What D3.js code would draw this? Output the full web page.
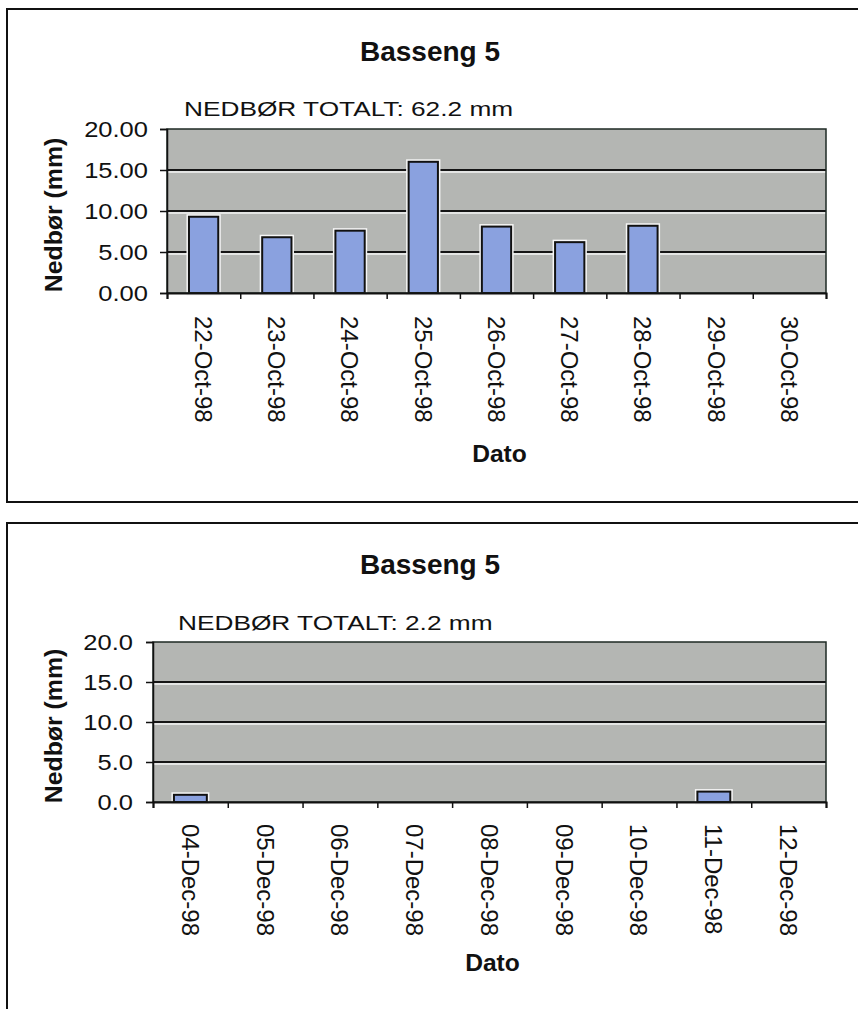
<!DOCTYPE html>
<html>
<head>
<meta charset="utf-8">
<script src="https://cdn.jsdelivr.net/npm/d3@7"></script>
<style>
  html, body { margin: 0; padding: 0; background: #fff; }
  svg { display: block; }
  text { font-family: "Liberation Sans", Arial, sans-serif; fill: #111; }
</style>
</head>
<body>
<script>
// ---------- DATA ----------
const titleText = "Basseng 5";
const yLabelText = "Nedbør (mm)";
const xLabelText = "Dato";

const octDates = ["22-Oct-98","23-Oct-98","24-Oct-98","25-Oct-98","26-Oct-98","27-Oct-98","28-Oct-98","29-Oct-98","30-Oct-98"];
const octRain  = [9.3, 6.8, 7.6, 16.0, 8.1, 6.2, 8.2, 0, 0];
const octTotal = "NEDBØR TOTALT: 62.2 mm";

const decDates = ["04-Dec-98","05-Dec-98","06-Dec-98","07-Dec-98","08-Dec-98","09-Dec-98","10-Dec-98","11-Dec-98","12-Dec-98"];
const decRain  = [0.9, 0, 0, 0, 0, 0, 0, 1.3, 0];
const decTotal = "NEDBØR TOTALT: 2.2 mm";

const yTicks = [0, 5, 10, 15, 20];
const yMax = 20;

// ---------- DRAW ----------
const W = 858, H = 1009;
const svg = d3.select("body").append("svg").attr("width", W).attr("height", H);

function txt(g, str, x, y, o) {
  o = o || {};
  const t = g.append("text")
    .attr("transform", `translate(${x},${y}) rotate(${o.rot || 0}) scale(${o.sx || 1},1)`)
    .attr("font-size", o.size || 20)
    .attr("font-weight", o.weight || "normal")
    .attr("text-anchor", o.anchor || "start")
    .text(str);
  if (o.dy) t.attr("dy", o.dy);
  return t;
}

function chart(cfg) {
  const g = svg.append("g");
  // outer frame
  g.append("rect")
    .attr("x", cfg.frame[0]).attr("y", cfg.frame[1])
    .attr("width", cfg.frame[2]).attr("height", cfg.frame[3])
    .attr("fill", "none").attr("stroke", "#111").attr("stroke-width", 2);

  const p = cfg.plot; // [x0, y0, x1, y1]
  const x = d3.scaleBand().domain(cfg.dates).range([p[0], p[2]]).padding(0);
  const xBar = d3.scaleBand().domain(cfg.dates).range([p[0], p[2]])
    .paddingInner(cfg.barPad).paddingOuter(cfg.barPad / 2);
  const xIdx = d3.scaleLinear().domain([0, cfg.dates.length]).range([p[0], p[2]]);
  const y = d3.scaleLinear().domain([0, yMax]).range([p[3], p[1]]);

  // plot background
  g.append("rect")
    .attr("x", p[0]).attr("y", p[1])
    .attr("width", p[2] - p[0]).attr("height", p[3] - p[1])
    .attr("fill", "#b4b6b3");

  // gridlines (black with white highlight)
  const grid = yTicks.filter(v => v > 0 && v < yMax);
  g.selectAll(".gw").data(grid).enter().append("line")
    .attr("x1", p[0]).attr("x2", p[2])
    .attr("y1", d => y(d) + 2).attr("y2", d => y(d) + 2)
    .attr("stroke", "#f4f4f4").attr("stroke-width", 1.5);
  g.selectAll(".gl").data(grid).enter().append("line")
    .attr("x1", p[0]).attr("x2", p[2])
    .attr("y1", d => y(d)).attr("y2", d => y(d))
    .attr("stroke", "#151515").attr("stroke-width", 2);

  // bars
  const bars = cfg.dates.map((d, i) => ({ d, v: cfg.values[i] })).filter(b => b.v > 0);
  g.selectAll(".bh").data(bars).enter().append("rect")
    .attr("x", b => xBar(b.d)).attr("y", b => y(b.v))
    .attr("width", xBar.bandwidth()).attr("height", b => y(0) - y(b.v))
    .attr("fill", "none").attr("stroke", "#f6f6f6").attr("stroke-width", 5);
  g.selectAll(".b").data(bars).enter().append("rect")
    .attr("x", b => xBar(b.d)).attr("y", b => y(b.v))
    .attr("width", xBar.bandwidth()).attr("height", b => y(0) - y(b.v))
    .attr("fill", "#8aa1df").attr("stroke", "#111").attr("stroke-width", 2);

  // plot border (top/right)
  g.append("rect")
    .attr("x", p[0]).attr("y", p[1])
    .attr("width", p[2] - p[0]).attr("height", p[3] - p[1])
    .attr("fill", "none").attr("stroke", "#1e2a24").attr("stroke-width", 1.5);

  // y axis
  const ya = g.append("g").attr("transform", `translate(${p[0]},0)`)
    .call(d3.axisLeft(y).tickValues(yTicks).tickSize(7).tickFormat(""));
  ya.selectAll("path,line").attr("stroke", "#111").attr("stroke-width", 1.5);
  yTicks.forEach(v => {
    txt(g, d3.format(cfg.yFmt)(v), cfg.yTickRight, y(v), { size: 22, sx: 1.16, anchor: "end", dy: "0.36em" });
  });

  // x axis (ticks at category boundaries)
  const xa = g.append("g").attr("transform", `translate(0,${p[3]})`)
    .call(d3.axisBottom(xIdx).tickValues(d3.range(cfg.dates.length + 1)).tickSize(6).tickFormat(""));
  xa.selectAll("path").attr("stroke", "#111").attr("stroke-width", 2);
  xa.selectAll("line").attr("stroke", "#111").attr("stroke-width", 1.5);

  // x tick labels (rotated, reading top to bottom)
  cfg.dates.forEach(d => {
    txt(g, d, x(d) + x.bandwidth() / 2, p[3] + cfg.xLabOff, { size: 24, sx: 1.0, rot: 90, dy: "0.36em" });
  });

  // titles
  txt(g, titleText, cfg.titleX, cfg.titleY, { size: 28, weight: "bold", anchor: "middle" });
  txt(g, cfg.total, cfg.totalX, cfg.totalY, { size: 21, sx: 1.25 });
  txt(g, yLabelText, 62, (p[1] + p[3]) / 2 + 4, { size: 23, weight: "bold", sx: 1.08, rot: -90, anchor: "middle" });
  txt(g, xLabelText, (p[0] + p[2]) / 2 + 3, p[3] + 169, { size: 23, weight: "bold", sx: 1.07, anchor: "middle" });
}

chart({
  frame: [7, 9, 880, 493],
  plot: [167, 129, 826, 293],
  dates: octDates, values: octRain, total: octTotal,
  barPad: 0.6, yFmt: ".2f", yTickRight: 148,
  xLabOff: 23,
  titleX: 430, titleY: 61, totalX: 184, totalY: 116
});

chart({
  frame: [7, 523, 880, 520],
  plot: [153, 642, 826, 802],
  dates: decDates, values: decRain, total: decTotal,
  barPad: 0.56, yFmt: ".1f", yTickRight: 133,
  xLabOff: 22,
  titleX: 430, titleY: 574, totalX: 178, totalY: 630
});
</script>
</body>
</html>
